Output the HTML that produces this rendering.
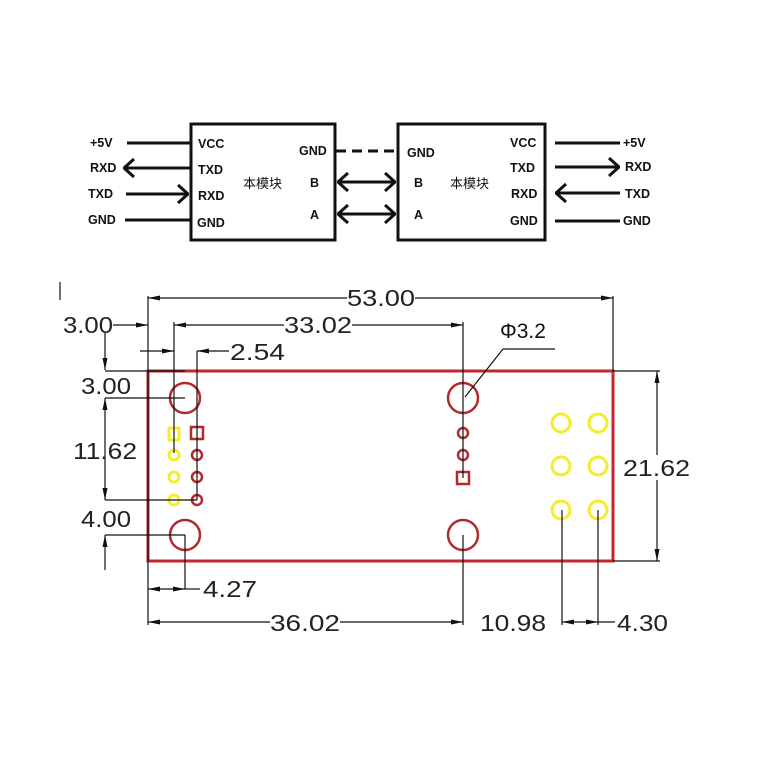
<!DOCTYPE html>
<html><head><meta charset="utf-8"><style>
html,body{margin:0;padding:0;background:#fff;}
svg{display:block;}
.b{font-family:"Liberation Sans","Noto Sans CJK SC",sans-serif;font-weight:bold;font-size:12.5px;fill:#111;}
.c{font-family:"Liberation Sans","Noto Sans CJK SC",sans-serif;font-size:13px;fill:#111;}
.d{font-family:"Liberation Sans",sans-serif;font-size:23px;fill:#222;}
</style></head><body>
<svg width="762" height="762" viewBox="0 0 762 762" xmlns="http://www.w3.org/2000/svg">
<defs>
<marker id="ar" viewBox="0 0 12 8" refX="12" refY="4" markerWidth="12" markerHeight="8" markerUnits="userSpaceOnUse" orient="auto-start-reverse"><path d="M0,1.5 L12,4 L0,6.5 Z" fill="#111"/></marker>
<marker id="oa" viewBox="0 0 12 20" refX="11" refY="10" markerWidth="12" markerHeight="20" markerUnits="userSpaceOnUse" orient="auto-start-reverse"><path d="M1,1 L11,10 L1,19" fill="none" stroke="#111" stroke-width="3"/></marker>
</defs>
<g stroke="#111" stroke-width="3" fill="none">
<rect x="191" y="124" width="144" height="116"/>
<rect x="398" y="124" width="147" height="116"/>
<line x1="127" y1="143" x2="190" y2="143"/>
<line x1="124" y1="168" x2="190" y2="168" marker-start="url(#oa)"/>
<line x1="126" y1="194" x2="188" y2="194" marker-end="url(#oa)"/>
<line x1="125" y1="220" x2="190" y2="220"/>
<line x1="336" y1="151" x2="397" y2="151" stroke-dasharray="10,6"/>
<line x1="338" y1="182" x2="395" y2="182" marker-start="url(#oa)" marker-end="url(#oa)"/>
<line x1="338" y1="214" x2="395" y2="214" marker-start="url(#oa)" marker-end="url(#oa)"/>
<line x1="555" y1="143" x2="620" y2="143"/>
<line x1="555" y1="167" x2="619" y2="167" marker-end="url(#oa)"/>
<line x1="556" y1="193" x2="620" y2="193" marker-start="url(#oa)"/>
<line x1="555" y1="221" x2="620" y2="221"/>
</g>
<g class="b">
<text x="90" y="147">+5V</text><text x="90" y="172">RXD</text><text x="88" y="198">TXD</text><text x="88" y="224">GND</text>
<text x="198" y="148">VCC</text><text x="198" y="174">TXD</text><text x="198" y="200">RXD</text><text x="197" y="227">GND</text>
<text x="299" y="155">GND</text><text x="310" y="187">B</text><text x="310" y="219">A</text>
<text x="407" y="157">GND</text><text x="414" y="187">B</text><text x="414" y="219">A</text>
<text x="510" y="147">VCC</text><text x="510" y="172">TXD</text><text x="511" y="198">RXD</text><text x="510" y="225">GND</text>
<text x="623" y="147">+5V</text><text x="625" y="171">RXD</text><text x="625" y="198">TXD</text><text x="623" y="225">GND</text>
</g>
<text class="c" x="243" y="188">本模块</text>
<text class="c" x="450" y="188">本模块</text>
<rect x="148" y="371" width="465" height="190" fill="none" stroke="#c1272d" stroke-width="3"/>
<g fill="none" stroke="#b22a2e" stroke-width="2.5">
<circle cx="185" cy="398" r="15"/><circle cx="185" cy="535" r="15"/>
<circle cx="463" cy="398" r="15"/><circle cx="463" cy="535" r="15"/>
<rect x="191" y="427" width="12" height="12"/>
<circle cx="197" cy="455" r="5"/><circle cx="197" cy="477" r="5"/><circle cx="197" cy="500" r="5"/>
<circle cx="463" cy="433" r="5"/><circle cx="463" cy="455" r="5"/>
<rect x="457" y="472" width="12" height="12"/>
</g>
<g fill="none" stroke="#f2ee2e" stroke-width="3">
<rect x="169" y="428" width="10" height="12"/>
<circle cx="174" cy="455" r="5"/><circle cx="174" cy="477" r="5"/><circle cx="174" cy="500" r="5"/>
<circle cx="561" cy="423" r="9"/><circle cx="598" cy="423" r="9"/>
<circle cx="561" cy="466" r="9"/><circle cx="598" cy="466" r="9"/>
<circle cx="561" cy="510" r="9"/><circle cx="598" cy="510" r="9"/>
</g>
<g stroke="#111" stroke-width="1.2" fill="none">
<line x1="60" y1="282" x2="60" y2="300"/>
<line x1="148" y1="296" x2="148" y2="625"/>
<line x1="613" y1="296" x2="613" y2="371"/>
<line x1="148" y1="298" x2="347" y2="298" marker-start="url(#ar)"/>
<line x1="415" y1="298" x2="613" y2="298" marker-end="url(#ar)"/>
<line x1="174" y1="322" x2="174" y2="453"/>
<line x1="463" y1="322" x2="463" y2="478"/>
<line x1="463" y1="535" x2="463" y2="625"/>
<line x1="174" y1="325" x2="284" y2="325" marker-start="url(#ar)"/>
<line x1="352" y1="325" x2="463" y2="325" marker-end="url(#ar)"/>
<line x1="113" y1="325" x2="148" y2="325" marker-end="url(#ar)"/>
<line x1="140" y1="351" x2="174" y2="351" marker-end="url(#ar)"/>
<line x1="197" y1="351" x2="229" y2="351" marker-start="url(#ar)"/>
<line x1="197" y1="351" x2="197" y2="500"/>
<line x1="105" y1="333" x2="105" y2="370" marker-end="url(#ar)"/>
<line x1="105" y1="371" x2="185" y2="371"/>
<line x1="105" y1="398" x2="185" y2="398"/>
<line x1="105" y1="398" x2="105" y2="500" marker-start="url(#ar)" marker-end="url(#ar)"/>
<line x1="105" y1="500" x2="197" y2="500"/>
<line x1="105" y1="535" x2="185" y2="535"/>
<line x1="105" y1="570" x2="105" y2="535" marker-end="url(#ar)"/>
<line x1="185" y1="535" x2="185" y2="589"/>
<line x1="148" y1="589" x2="185" y2="589" marker-start="url(#ar)" marker-end="url(#ar)"/>
<line x1="185" y1="589" x2="200" y2="589"/>
<line x1="148" y1="622" x2="270" y2="622" marker-start="url(#ar)"/>
<line x1="340" y1="622" x2="463" y2="622" marker-end="url(#ar)"/>
<line x1="562" y1="510" x2="562" y2="625"/>
<line x1="598" y1="510" x2="598" y2="625"/>
<line x1="562" y1="622" x2="598" y2="622" marker-start="url(#ar)" marker-end="url(#ar)"/>
<line x1="598" y1="622" x2="615" y2="622"/>
<line x1="613" y1="371" x2="660" y2="371"/>
<line x1="613" y1="561" x2="660" y2="561"/>
<line x1="657" y1="371" x2="657" y2="455" marker-start="url(#ar)"/>
<line x1="657" y1="480" x2="657" y2="561" marker-end="url(#ar)"/>
<line x1="555" y1="349" x2="503" y2="349"/>
<line x1="503" y1="349" x2="465" y2="397"/>
</g>
<g class="d">
<text x="347" y="306" textLength="68" lengthAdjust="spacingAndGlyphs">53.00</text>
<text x="284" y="333" textLength="68" lengthAdjust="spacingAndGlyphs">33.02</text>
<text x="230" y="360" textLength="55" lengthAdjust="spacingAndGlyphs">2.54</text>
<text x="63" y="333" textLength="50" lengthAdjust="spacingAndGlyphs">3.00</text>
<text x="81" y="394" textLength="50" lengthAdjust="spacingAndGlyphs">3.00</text>
<text x="73" y="459" textLength="64" lengthAdjust="spacingAndGlyphs">11.62</text>
<text x="81" y="527" textLength="50" lengthAdjust="spacingAndGlyphs">4.00</text>
<text x="203" y="597" textLength="54" lengthAdjust="spacingAndGlyphs">4.27</text>
<text x="270" y="631" textLength="70" lengthAdjust="spacingAndGlyphs">36.02</text>
<text x="480" y="631" textLength="66" lengthAdjust="spacingAndGlyphs">10.98</text>
<text x="617" y="631" textLength="51" lengthAdjust="spacingAndGlyphs">4.30</text>
<text x="623" y="476" textLength="67" lengthAdjust="spacingAndGlyphs">21.62</text>
</g>
<text x="500" y="338" font-family="Liberation Sans,sans-serif" font-size="21" fill="#111">Φ3.2</text>
</svg>
</body></html>
